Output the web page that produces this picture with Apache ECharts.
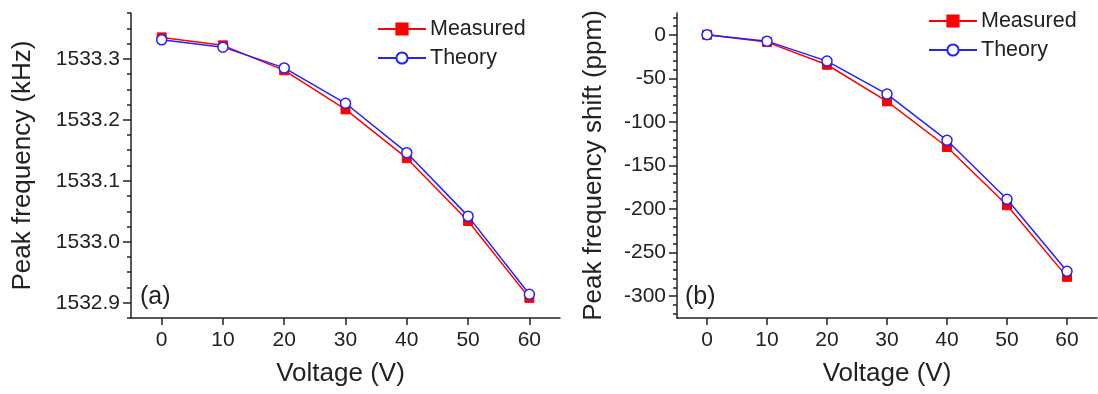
<!DOCTYPE html>
<html>
<head>
<meta charset="utf-8">
<script src="https://cdn.jsdelivr.net/npm/echarts@6/dist/echarts.min.js"></script>
<style>
  html, body { margin: 0; padding: 0; background: #fff; }
  #chart { width: 1098px; height: 394px; }
</style>
</head>
<body>
<div id="chart"></div>
<script>
// ---- data ----
var voltage = [0, 10, 20, 30, 40, 50, 60];
var freqMeasured = [1533.335, 1533.322, 1533.281, 1533.217, 1533.137, 1533.034, 1532.908];
var freqTheory   = [1533.331, 1533.319, 1533.285, 1533.227, 1533.146, 1533.042, 1532.914];
var shiftMeasured = [0, -8.4, -34.4, -76.4, -128.8, -195.6, -277.8];
var shiftTheory   = [0, -7.3, -30.2, -68.0, -121.1, -188.8, -271.3];

var xTickLabels = [0, 10, 20, 30, 40, 50, 60];
var freqTickLabels = [1532.9, 1533.0, 1533.1, 1533.2, 1533.3];
var shiftTickLabels = [0, -50, -100, -150, -200, -250, -300];

var FONT = '"Liberation Sans", Arial, sans-serif';
var AX = '#222';
var RED = '#ff0000';
var BLUE = '#2222ff';

// axis ranges
var X_MIN = -5, X_MAX = 65;
var F_MIN = 1532.875, F_MAX = 1533.375;
var S_MIN = -325, S_MAX = 25;

// plot-area geometry (pixels)
var TOP = 13, BOTTOM = 76, H = 394 - TOP - BOTTOM;
var L_LEFT = 131, L_RIGHT = 538, R_LEFT = 677, R_RIGHT = 1;
var W_L = 1098 - L_LEFT - L_RIGHT, W_R = 1098 - R_LEFT - R_RIGHT;

// helper grids so that tick-only axes with "nice" min/max line up exactly with the main axes
function yGridFor(left, right, min, max, lo, hi) {
  var pxPer = H / (max - min);
  return { left: left, right: right, top: TOP + (max - hi) * pxPer, bottom: BOTTOM + (lo - min) * pxPer };
}
function xGridFor(left, right, width, min, max, lo, hi) {
  var pxPer = width / (max - min);
  return { left: left + (lo - min) * pxPer, right: right + (max - hi) * pxPer, top: TOP, bottom: BOTTOM };
}

function pairs(xs, ys) { return xs.map(function (x, i) { return [x, ys[i]]; }); }

function xMain(gridIndex, namePad) {
  return {
    type: 'value', gridIndex: gridIndex, min: X_MIN, max: X_MAX, position: 'bottom',
    name: 'Voltage (V)', nameLocation: 'middle', nameGap: 43,
    nameTextStyle: { fontFamily: FONT, fontSize: 26, color: AX, padding: namePad },
    axisLine: { show: true, onZero: false, lineStyle: { color: AX, width: 1.5 } },
    axisTick: { show: false },
    axisLabel: { show: true, customValues: xTickLabels.slice(), margin: 12, fontFamily: FONT, fontSize: 21, color: AX },
    splitLine: { show: false }
  };
}
function yMain(gridIndex, min, max, labels, name, gap, fmt) {
  return {
    type: 'value', gridIndex: gridIndex, min: min, max: max, position: 'left',
    name: name, nameLocation: 'middle', nameGap: gap,
    nameTextStyle: { fontFamily: FONT, fontSize: 26, color: AX },
    axisLine: { show: true, onZero: false, lineStyle: { color: AX, width: 1.5 } },
    axisTick: { show: false },
    axisLabel: { show: true, customValues: labels.slice(), margin: 11, fontFamily: FONT, fontSize: 21, color: AX, formatter: fmt },
    splitLine: { show: false }
  };
}
function tickAxis(gridIndex, min, max, interval, pos, offset) {
  return {
    type: 'value', gridIndex: gridIndex, min: min, max: max, interval: interval, position: pos, offset: offset || 0,
    axisLine: { show: false, onZero: false },
    axisTick: { show: true, length: 4, lineStyle: { color: AX, width: 1.5 } },
    axisLabel: { show: false },
    splitLine: { show: false }
  };
}
function hiddenAxis(gridIndex) {
  return { type: 'value', gridIndex: gridIndex, min: 0, max: 1, show: false, splitLine: { show: false } };
}

function measuredSeries(xi, yi, data) {
  return {
    name: 'Measured', type: 'line', xAxisIndex: xi, yAxisIndex: yi,
    data: data, symbol: 'rect', symbolSize: 9,
    lineStyle: { color: RED, width: 1.5 },
    itemStyle: { color: RED, borderColor: RED, borderWidth: 1 },
    z: 3, animation: false
  };
}
function theorySeries(xi, yi, data) {
  return {
    name: 'Theory', type: 'line', xAxisIndex: xi, yAxisIndex: yi,
    data: data, symbol: 'circle', symbolSize: 10, showAllSymbol: true,
    lineStyle: { color: BLUE, width: 1.5 },
    itemStyle: { color: '#fff', borderColor: BLUE, borderWidth: 1.5 },
    z: 4, animation: false
  };
}
function legendCfg(left, top) {
  return {
    orient: 'vertical', left: left, top: top, padding: 0,
    itemWidth: 48, itemHeight: 14, itemGap: 7,
    data: ['Measured', 'Theory'],
    textStyle: { fontFamily: FONT, fontSize: 21.5, color: AX, padding: [0, 0, 0, -1] },
    selectedMode: false
  };
}

var grids = [
  { left: L_LEFT, right: L_RIGHT, top: TOP, bottom: BOTTOM },                 // 0 main (a)
  { left: R_LEFT, right: R_RIGHT, top: TOP, bottom: BOTTOM },                 // 1 main (b)
  yGridFor(L_LEFT, L_RIGHT, F_MIN, F_MAX, 1532.9, 1533.3),                     // 2 (a) major y ticks
  yGridFor(R_LEFT, R_RIGHT, S_MIN, S_MAX, -300, 0),                            // 3 (b) major y ticks
  yGridFor(R_LEFT, R_RIGHT, S_MIN, S_MAX, -320, 20),                           // 4 (b) minor y ticks
  xGridFor(L_LEFT, L_RIGHT, W_L, X_MIN, X_MAX, 0, 60),                         // 5 (a) x ticks
  xGridFor(R_LEFT, R_RIGHT, W_R, X_MIN, X_MAX, 0, 60)                          // 6 (b) x ticks
];

var chart = echarts.init(document.getElementById('chart'), null, { renderer: 'canvas' });
chart.setOption({
  backgroundColor: '#fff',
  animation: false,
  title: [
    { text: '(a)', left: 135, top: 280, padding: [5, 5, 5, 5], textStyle: { fontFamily: FONT, fontSize: 25, fontWeight: 'normal', color: AX } },
    { text: '(b)', left: 680, top: 280, padding: [5, 5, 5, 5], textStyle: { fontFamily: FONT, fontSize: 25, fontWeight: 'normal', color: AX } }
  ],
  legend: [legendCfg(377, 18), legendCfg(928, 10)],
  grid: grids,
  xAxis: [
    xMain(0, [0, 10, 0, 0]),
    xMain(1, [0, 0, 0, 0]),
    hiddenAxis(2), hiddenAxis(3), hiddenAxis(4),
    tickAxis(5, 0, 60, 10, 'bottom', 0),
    tickAxis(5, 0, 60, 10, 'bottom', 3),
    tickAxis(6, 0, 60, 10, 'bottom', 0),
    tickAxis(6, 0, 60, 10, 'bottom', 3)
  ],
  yAxis: [
    yMain(0, F_MIN, F_MAX, freqTickLabels, 'Peak frequency (kHz)', 95, function (v) { return v.toFixed(1); }),
    yMain(1, S_MIN, S_MAX, shiftTickLabels, 'Peak frequency shift (ppm)', 70, function (v) { return String(Math.round(v)); }),
    tickAxis(2, 1532.9, 1533.3, 0.1, 'left', 0),
    tickAxis(2, 1532.9, 1533.3, 0.1, 'left', 4),
    tickAxis(3, -300, 0, 50, 'left', 0),
    tickAxis(3, -300, 0, 50, 'left', 4),
    tickAxis(4, -320, 20, 10, 'left', 0),
    hiddenAxis(5), hiddenAxis(6),
    tickAxis(0, F_MIN, F_MAX, 0.025, 'left', 0)
  ],
  series: [
    measuredSeries(0, 0, pairs(voltage, freqMeasured)),
    theorySeries(0, 0, pairs(voltage, freqTheory)),
    measuredSeries(1, 1, pairs(voltage, shiftMeasured)),
    theorySeries(1, 1, pairs(voltage, shiftTheory))
  ]
});
</script>
</body>
</html>
